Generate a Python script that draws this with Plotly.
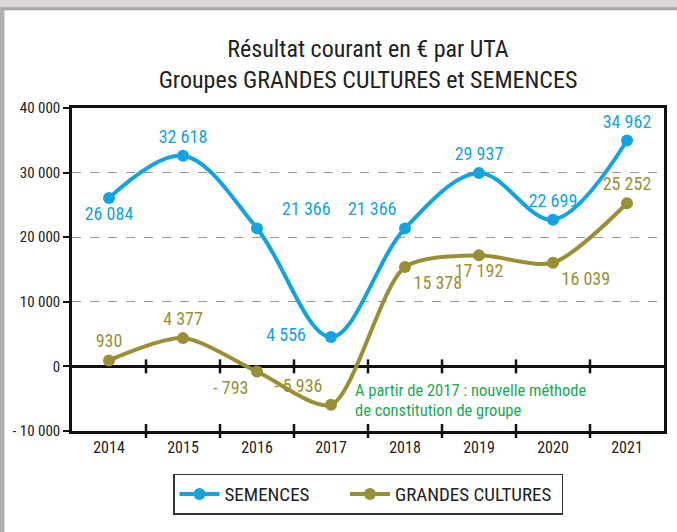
import plotly.graph_objects as go

years = [2014, 2015, 2016, 2017, 2018, 2019, 2020, 2021]
semences = [26084, 32618, 21366, 4556, 21366, 29937, 22699, 34962]
grandes_cultures = [930, 4377, -793, -5936, 15378, 17192, 16039, 25252]
sem_pos = ["bottom center", "top center", "top right", "middle left",
           "top left", "top center", "top center", "top center"]
gc_pos = ["top center", "top center", "bottom left", "top left",
          "bottom right", "bottom center", "bottom right", "top center"]
y_ticks = [-10000, 0, 10000, 20000, 30000, 40000]
y_ticktext = ["- 10 000", "0", "10 000", "20 000", "30 000", "40 000"]
note_lines = ["A partir de 2017 : nouvelle méthode", "de constitution de groupe"]

BLUE = "#12a3e0"
OLIVE = "#9a8f33"
GREEN = "#18aa55"
FONT = "Liberation Sans Narrow, Roboto Condensed, Arial Narrow, Roboto, sans-serif"
NB = "\u00a0"


def fmt(v):
    s = f"{abs(v):,}".replace(",", " ")
    return ("- " + s) if v < 0 else s


sem_text = [fmt(v) for v in semences]
sem_text[2] = NB * 4 + sem_text[2]
sem_text[3] = sem_text[3] + NB * 4
gc_text = [fmt(v) for v in grandes_cultures]

fig = go.Figure()
fig.add_trace(go.Scatter(
    x=years, y=semences, name="SEMENCES" + NB * 7, mode="lines+markers+text",
    line=dict(color=BLUE, width=4, shape="spline", smoothing=1.0),
    marker=dict(color=BLUE, size=12),
    text=sem_text, textposition=sem_pos,
    textfont=dict(color=BLUE, size=18, family=FONT), cliponaxis=False,
))
fig.add_trace(go.Scatter(
    x=years, y=grandes_cultures, name="GRANDES CULTURES" + NB, mode="lines+markers+text",
    line=dict(color=OLIVE, width=4, shape="spline", smoothing=0.75),
    marker=dict(color=OLIVE, size=12),
    text=gc_text, textposition=gc_pos,
    textfont=dict(color=OLIVE, size=18, family=FONT), cliponaxis=False,
))

# cross ticks between categories, on the zero line and on the bottom axis
bounds = [y + 0.5 for y in years[:-1]]
for yv in [0, y_ticks[0]]:
    fig.add_trace(go.Scatter(
        x=bounds, y=[yv] * len(bounds), mode="markers", showlegend=False,
        hoverinfo="skip", cliponaxis=False,
        marker=dict(symbol="line-ns", size=10, line=dict(color="#111", width=2.5)),
    ))

for txt, yv in zip(note_lines, [-3800, -6800]):
    fig.add_annotation(
        x=2017.3, y=yv, xanchor="left", yanchor="middle", align="left",
        text=txt, showarrow=False, font=dict(color=GREEN, size=16.5, family=FONT),
    )

# grey page frame (top and left)
fig.add_shape(type="rect", xref="paper", yref="paper", x0=-0.2, x1=1.1,
              y0=1.305, y1=1.4, fillcolor="#dcd8d8", line_width=0, layer="below")
fig.add_shape(type="rect", xref="paper", yref="paper", x0=-0.2, x1=1.1,
              y0=1.303, y1=1.312, fillcolor="#aaa6a6", line_width=0, layer="below")
fig.add_shape(type="rect", xref="paper", yref="paper", x0=-0.2, x1=-0.114,
              y0=-0.4, y1=1.31, fillcolor="#b4b0b0", line_width=0, layer="below")

fig.update_layout(
    width=677, height=532,
    margin=dict(l=72, r=10, t=108, b=101),
    paper_bgcolor="white", plot_bgcolor="white",
    font=dict(family=FONT, color="#222", size=15),
    title=dict(
        text="Résultat courant en € par UTA<br>Groupes GRANDES CULTURES et SEMENCES",
        x=0.5, xref="paper", xanchor="center", y=0.893, yanchor="top",
        font=dict(size=24, color="#222", family=FONT),
    ),
    showlegend=True,
    legend=dict(
        orientation="h", x=0.5, xanchor="center", y=-0.132, yanchor="top",
        bordercolor="#333", borderwidth=1.5, bgcolor="white",
        font=dict(size=19, color="#222", family=FONT),
        itemwidth=40, traceorder="normal",
    ),
    xaxis=dict(
        range=[2013.5, 2021.5], tickvals=years, ticktext=[str(y) for y in years],
        showgrid=False, zeroline=False, showline=True, linecolor="#111",
        linewidth=2.5, mirror=True, ticks="", tickfont=dict(size=16),
    ),
    yaxis=dict(
        range=[-10000, 40000], tickvals=y_ticks, ticktext=y_ticktext,
        showgrid=True, gridcolor="#999", griddash="dash", gridwidth=1,
        zeroline=True, zerolinecolor="#111", zerolinewidth=2.5,
        showline=True, linecolor="#111", linewidth=2.5, mirror=True,
        ticks="outside", ticklen=6, tickwidth=2, tickcolor="#111",
        tickfont=dict(size=15),
    ),
)

fig.write_html("out.html", config={"displayModeBar": False},
               post_script="document.body.style.margin='0';")
